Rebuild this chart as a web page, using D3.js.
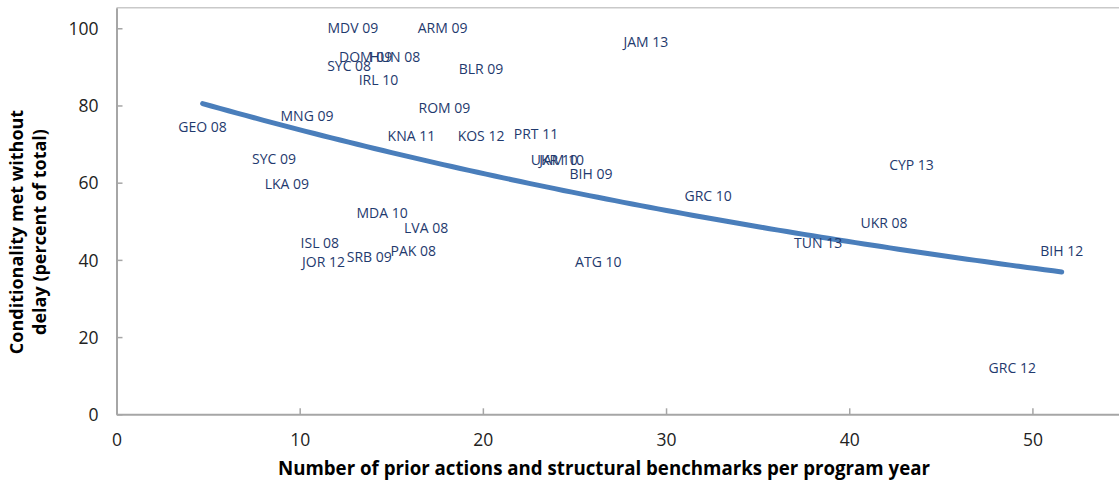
<!DOCTYPE html>
<html><head><meta charset="utf-8">
<script src="https://cdn.jsdelivr.net/npm/d3@7"></script>
<style>
body{margin:0;background:#fff;overflow:hidden}
text{font-family:"Open Sans","Noto Sans",sans-serif}
</style></head>
<body><svg id="c" width="1119" height="484"></svg>
<script>
const labels = ["MDV 09","ARM 09","DOM 09","HUN 08","SYC 08","IRL 10","JAM 13","BLR 09","ROM 09","KNA 11","KOS 12","PRT 11","UKR 10","JAM 10","BIH 09","GRC 10","CYP 13","UKR 08","TUN 13","BIH 12","GRC 12","ATG 10","PAK 08","LVA 08","MDA 10","ISL 08","JOR 12","SRB 09","LKA 09","SYC 09","MNG 09","GEO 08"];
const xValues = [12.9,17.8,13.6,15.2,12.7,14.3,28.9,19.9,17.9,16.1,19.9,22.9,23.9,24.3,25.9,32.3,43.4,41.9,38.3,51.6,48.9,26.3,16.2,16.9,14.5,11.1,11.3,13.8,9.3,8.6,10.4,4.7];
const yValues = [100,100,92.6,92.6,90.3,86.6,96.5,89.5,79.4,72.2,72.1,72.5,66.0,66.0,62.2,56.6,64.6,49.6,44.5,42.4,11.9,39.5,42.3,48.2,52.1,44.3,39.5,40.8,59.6,66.1,77.4,74.5];
const xTicks = [0,10,20,30,40,50];
const yTicks = [0,20,40,60,80,100];
const xTitle = "Number of prior actions and structural benchmarks per program year";
const yTitleLines = ["Conditionality met without","delay (percent of total)"];

const svg = d3.select("#c");
const x = d3.scaleLinear().domain([0,55]).range([116.5,1124]);
const y = d3.scaleLinear().domain([0,105.3]).range([414.3,7.8]);
const axisColor = "#a6a6a6";

// plot box top border
svg.append("line").attr("x1",x(0)).attr("x2",x(55)).attr("y1",y(105.3)).attr("y2",y(105.3))
  .attr("stroke","#c9c9c9").attr("stroke-width",1.5);

// axes
const gx = svg.append("g").attr("transform",`translate(0,${y(0)})`)
  .call(d3.axisBottom(x).tickValues(xTicks).tickSize(-6).tickPadding(26).tickSizeOuter(0));
const gy = svg.append("g").attr("transform",`translate(${x(0)},0)`)
  .call(d3.axisLeft(y).tickValues(yTicks).tickSize(-6).tickPadding(18).tickSizeOuter(0));
[gx,gy].forEach(g=>{
  g.select(".domain").attr("stroke",axisColor).attr("stroke-width",2);
  g.selectAll(".tick line").attr("stroke",axisColor).attr("stroke-width",1.5);
  g.selectAll(".tick text").attr("fill","#222").style("font-size","17.5px").style("font-family","'Open Sans',sans-serif");
});
gy.selectAll(".tick text").attr("dy","0.35em");
gx.selectAll(".tick text").attr("dy","0.35em");

// exponential trendline (least squares on ln y)
const n = xValues.length;
const lx = xValues, ly = yValues.map(v=>Math.log(v));
const mx = d3.mean(lx), my = d3.mean(ly);
let sxy=0,sxx=0;
for(let i=0;i<n;i++){sxy+=(lx[i]-mx)*(ly[i]-my);sxx+=(lx[i]-mx)**2;}
const b = sxy/sxx, a = my - b*mx;
const [xmin,xmax] = d3.extent(xValues);
const trend = d3.range(0,101).map(i=>{const xv=xmin+(xmax-xmin)*i/100;return [xv,Math.exp(a+b*xv)];});
svg.append("path").datum(trend)
  .attr("d",d3.line().x(d=>x(d[0])).y(d=>y(d[1])))
  .attr("fill","none").attr("stroke","#4a7ebb").attr("stroke-width",5).attr("stroke-linecap","round");

// data labels (points themselves are not drawn)
svg.append("g").selectAll("text").data(labels).join("text")
  .attr("x",(d,i)=>x(xValues[i])).attr("y",(d,i)=>y(yValues[i]))
  .attr("text-anchor","middle").attr("dy","0.36em")
  .attr("fill","#1f3a6e").style("font-size","14px")
  .text(d=>d);

// axis titles
svg.append("text").attr("x",604).attr("y",468).attr("dy","0.36em").attr("text-anchor","middle")
  .style("font-size","18.7px").style("font-weight","bold").attr("fill","#000").text(xTitle);
const yt = svg.append("text").attr("transform","translate(17,232) rotate(-90)")
  .attr("text-anchor","middle").style("font-size","18px").style("font-weight","bold").attr("fill","#000");
yTitleLines.forEach((t,i)=>yt.append("tspan").attr("x",0).attr("y",i*23).attr("dy","0.36em").text(t));
</script></body></html>
